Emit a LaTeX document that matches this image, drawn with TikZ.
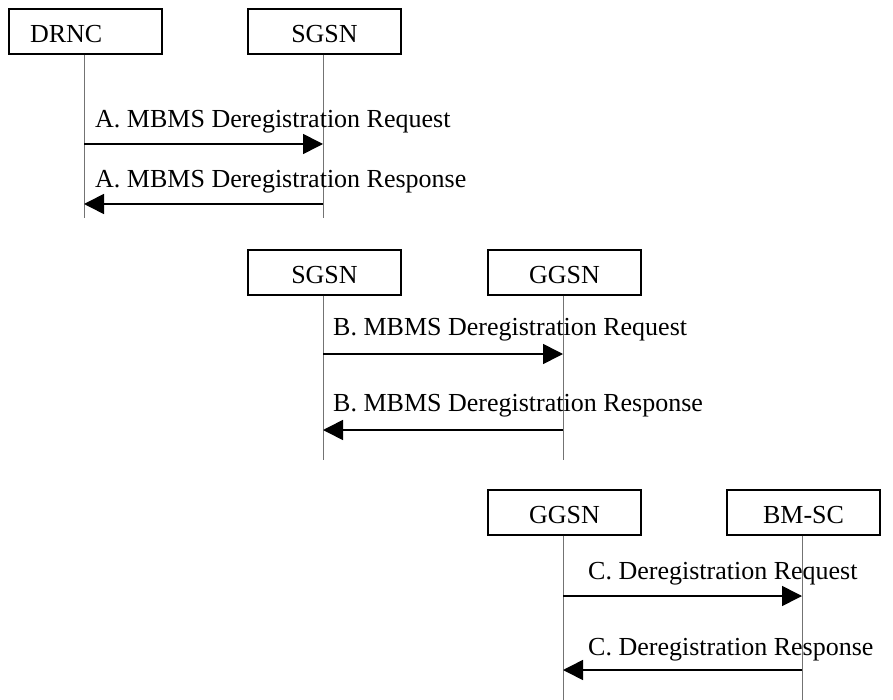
\documentclass[tikz,border=0pt]{standalone}
\usepackage{fontspec}
\setmainfont{Liberation Serif}
\usetikzlibrary{arrows.meta}
\begin{document}
\begin{tikzpicture}[x=1pt,y=-1pt,
  entity/.style={draw=black,line width=1.2pt,minimum width=153pt,minimum height=45pt,inner sep=0pt,text height=22pt,text depth=0pt,font=\fontsize{26}{30}\selectfont},
  lifeline/.style={draw=black!55,line width=1pt},
  msg/.style={draw=black,line width=1.6pt,-{Triangle[length=20pt,width=20pt]}},
  lbl/.style={anchor=base west,inner sep=0pt,font=\fontsize{26}{30}\selectfont}]
\useasboundingbox (0,0) rectangle (893,700);
% group A
\node[entity,text width=111pt,align=left] (drnc) at (85.5,31.5) {DRNC};
\node[entity] (sgsnA) at (324.5,31.5) {SGSN};
\coordinate (drncEnd) at (84,218);
\coordinate (sgsnAEnd) at (323,218);
\draw[lifeline] (drnc.south -| drncEnd) -- (drncEnd);
\draw[lifeline] (sgsnA.south -| sgsnAEnd) -- (sgsnAEnd);
\coordinate (a1s) at (84,144); \coordinate (a1e) at (323,144);
\coordinate (a2s) at (323,204); \coordinate (a2e) at (84,204);
\draw[msg] (a1s) -- (a1e);
\draw[msg] (a2s) -- (a2e);
\node[lbl] (la1) at (95,128) {A. MBMS Deregistration Request};
\node[lbl] (la2) at (95,188) {A. MBMS Deregistration Response};
% group B
\node[entity] (sgsnB) at (324.5,272.5) {SGSN};
\node[entity] (ggsnB) at (564.5,272.5) {GGSN};
\coordinate (sgsnBEnd) at (323,460);
\coordinate (ggsnBEnd) at (563,460);
\draw[lifeline] (sgsnB.south -| sgsnBEnd) -- (sgsnBEnd);
\draw[lifeline] (ggsnB.south -| ggsnBEnd) -- (ggsnBEnd);
\coordinate (b1s) at (323,354); \coordinate (b1e) at (563,354);
\coordinate (b2s) at (563,430); \coordinate (b2e) at (323,430);
\draw[msg] (b1s) -- (b1e);
\draw[msg] (b2s) -- (b2e);
\node[lbl] (lb1) at (333,335) {B. MBMS Deregistration Request};
\node[lbl] (lb2) at (333,411) {B. MBMS Deregistration Response};
% group C
\node[entity] (ggsnC) at (564.5,512.5) {GGSN};
\node[entity] (bmsc) at (803.5,512.5) {BM-SC};
\coordinate (ggsnCEnd) at (563,700);
\coordinate (bmscEnd) at (802,700);
\draw[lifeline] (ggsnC.south -| ggsnCEnd) -- (ggsnCEnd);
\draw[lifeline] (bmsc.south -| bmscEnd) -- (bmscEnd);
\coordinate (c1s) at (563,596); \coordinate (c1e) at (802,596);
\coordinate (c2s) at (802,670); \coordinate (c2e) at (563,670);
\draw[msg] (c1s) -- (c1e);
\draw[msg] (c2s) -- (c2e);
\node[lbl] (lc1) at (588,579) {C. Deregistration Request};
\node[lbl] (lc2) at (588,655) {C. Deregistration Response};
\end{tikzpicture}
\end{document}
